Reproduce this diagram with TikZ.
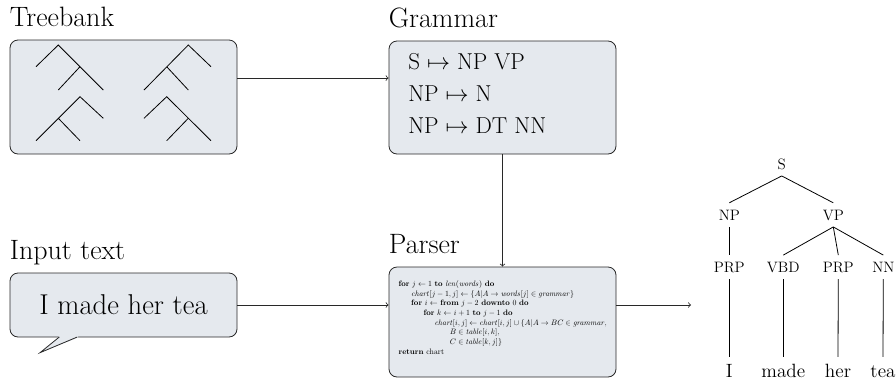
\documentclass[tikz,border=0pt]{standalone}
\usepackage{graphicx}
\definecolor{panelfill}{RGB}{229,233,238}
\definecolor{edgegray}{RGB}{40,40,40}
\begin{document}
\begin{tikzpicture}[x=0.75pt,y=-0.75pt,
  panel/.style={draw=edgegray, fill=panelfill, rounded corners=6pt, line width=0.6pt, inner sep=0pt},
  heading/.style={anchor=base west, inner sep=0pt, font=\fontsize{21}{25}\selectfont},
  link/.style={->, draw=edgegray, line width=0.6pt},
  rule/.style={anchor=base west, inner sep=0pt, font=\fontsize{17.28}{21}\selectfont},
  tag/.style={anchor=base, inner sep=5pt, text height=7.7pt, text depth=0pt, font=\fontsize{11.3}{13}\selectfont},
  leaf/.style={anchor=base, inner sep=5pt, text height=9.84pt, text depth=0pt, font=\fontsize{14.4}{17}\selectfont},
  branch/.style={line width=0.6pt},
]
\useasboundingbox (0,0) rectangle (896,379);

% panels
\node[panel, minimum width=170.25pt, minimum height=85.5pt] (treebank) at (123.5,97) {};
\node[panel, minimum width=170.25pt, minimum height=84.75pt] (grammar) at (502.5,97.5) {};
\node[panel, minimum width=170.25pt, minimum height=82.5pt] (parser) at (502.5,322) {};
\node[panel, minimum width=170.25pt, minimum height=48pt, font=\fontsize{21.5}{25}\selectfont] (input) at (123.5,305) {I made her tea};

% speech-bubble tail under the input text
\fill[panelfill] (58.6,335) -- (58.6,337.7) -- (40,352.7) -- (78,337.7) -- (78,335) -- cycle;
\draw[edgegray, line width=0.6pt] (59.3,337) -- (40,352.7) -- (77.3,337);

% headings
\node[heading] (tbtitle) at ([yshift=9.75pt]treebank.north west) {Treebank};
\node[heading] (grtitle) at ([yshift=9.75pt]grammar.north west) {Grammar};
\node[heading] (patitle) at ([yshift=9.75pt]parser.north west) {Parser};
\node[heading] (intitle) at ([yshift=9.75pt]input.north west) {Input text};

% little trees in the treebank
\draw[branch] (36,66.7) -- (58.3,45) -- (103.3,90) (80,66.7) -- (58.3,90);
\draw[branch] (211,66.7) -- (188.3,45) -- (144,90) (166.7,66.7) -- (188.3,90);
\draw[branch] (36,140.7) -- (80,96.7) -- (103.3,118.3) (58.3,118.3) -- (80,140.7);
\draw[branch] (144,118.3) -- (166.7,96.7) -- (211,140.7) (188.3,118.3) -- (166.7,140.7);

% grammar rules
\node[rule] (rule1) at (408,69) {S $\mapsto$ NP VP};
\node[rule] (rule2) at (408,101) {NP $\mapsto$ N};
\node[rule] (rule3) at (408,133) {NP $\mapsto$ DT NN};

% CKY algorithm, set at 10pt and shrunk
\node[anchor=north west, inner sep=0pt] (algo) at (398.3,279.2) {\scalebox{0.59}{\fontsize{10}{12.37}\selectfont
\begin{tabular}{@{}l@{}}
\textbf{for} $j \leftarrow 1$ \textbf{to} $\mathit{len}(\mathit{words})$ \textbf{do}\\
\hspace*{16.1pt}$\mathit{chart}[j-1,j] \leftarrow \{A|A \rightarrow \mathit{words}[j] \in \mathit{grammar}\}$\\
\hspace*{16.1pt}\textbf{for} $i \leftarrow$ \textbf{from} $j-2$ \textbf{downto} $0$ \textbf{do}\\
\hspace*{31.8pt}\textbf{for} $k \leftarrow i+1$ \textbf{to} $j-1$ \textbf{do}\\
\hspace*{45.8pt}$\mathit{chart}[i,j] \leftarrow \mathit{chart}[i,j] \cup \{A|A \rightarrow BC \in \mathit{grammar},$\\
\hspace*{65.3pt}$B \in \mathit{table}[i,k],$\\
\hspace*{65.3pt}$C \in \mathit{table}[k,j]\}$\\
\textbf{return} chart
\end{tabular}}};

% connectors
\coordinate (tbout) at ([yshift=14.2pt]treebank.east);
\draw[link] (tbout) -- (tbout -| grammar.west);
\draw[link] (grammar.south) -- (parser.north);
\draw[link] (input.east) -- (input.east -| parser.west);
\coordinate (treein) at (691,305);
\draw[link] (treein -| parser.east) -- (treein);

% parse tree
\node[tag] (s) at (781.7,169) {S};
\node[tag] (np) at (729.3,220) {NP};
\node[tag] (vp) at (833.3,220) {VP};
\node[tag] (prp1) at (729.3,272.3) {PRP};
\node[tag] (vbd) at (783.3,272.3) {VBD};
\node[tag] (prp2) at (838.3,272.3) {PRP};
\node[tag] (nn) at (883.3,272.3) {NN};
\node[leaf] (w1) at (729.3,377) {I};
\node[leaf] (w2) at (783.3,377) {made};
\node[leaf] (w3) at (838,377) {her};
\node[leaf] (w4) at (883,377) {tea};

\draw[branch] (s.south) -- (np.north);
\draw[branch] (s.south) -- (vp.north);
\draw[branch] (np.south) -- (prp1.north);
\draw[branch] (vp.south) -- (vbd.north);
\draw[branch] (vp.south) -- (prp2.north);
\draw[branch] (vp.south) -- (nn.north);
\draw[branch] (prp1.south) -- (w1.north);
\draw[branch] (vbd.south) -- (w2.north);
\draw[branch] (prp2.south) -- (w3.north);
\draw[branch] (nn.south) -- (w4.north);
\end{tikzpicture}
\end{document}
